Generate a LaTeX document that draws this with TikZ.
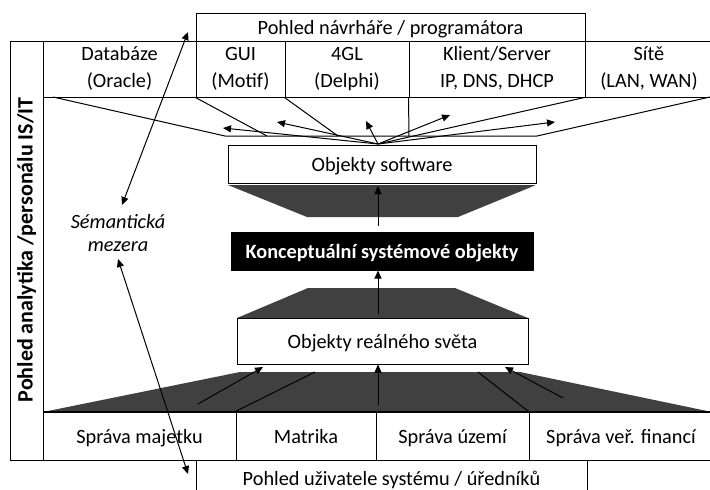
\documentclass[tikz,border=0pt]{standalone}
\usepackage{fontspec}
\setmainfont{Carlito}
\usetikzlibrary{arrows.meta}
\definecolor{darkfill}{RGB}{64,64,64}
\newcommand{\myst}{\strut}
\newcommand{\onest}{\rule[-6pt]{0pt}{26pt}}
\begin{document}
\begin{tikzpicture}[x=1pt,y=-1pt,
  box/.style={draw, line width=1pt, inner sep=0pt, align=center, fill=white,
    font=\fontsize{20.3}{27}\selectfont},
  plain/.style={line width=1pt},
  thickline/.style={line width=1.8pt},
  arr/.style={-{Triangle[length=8pt,width=7pt]}, line width=1pt},
  darr/.style={{Triangle[length=8pt,width=7pt]}-{Triangle[length=8pt,width=7pt]}, line width=1pt},
  dark/.style={fill=darkfill}]
\clip (0,0) rectangle (710,490);
\fill[white] (0,0) rectangle (710,490);

% dark trapezoids
\fill[dark] (43,412) -- (240,372) -- (520,372) -- (712,412) -- cycle;
\fill[dark] (228,185) -- (536,185) -- (458,217) -- (307,217) -- cycle;
\fill[dark] (308,288) -- (455,288) -- (528,318) -- (237,318) -- cycle;

% left strip
\node[box, minimum width=33pt, minimum height=419pt] (strip) at (26.5,250.5) {};
\node[rotate=90, font=\fontsize{22}{26}\selectfont\bfseries] (striptext) at (26.5,250) {Pohled analytika /personálu IS/IT};

% top title
\node[box, minimum width=389pt, minimum height=28pt] (ttop) at (390.5,27) {Pohled návrháře / programátora\onest};
% top row
\node[box, minimum width=153pt, minimum height=56pt] (db) at (119.5,69) {Databáze\myst\\(Oracle)\myst};
\node[box, minimum width=89pt, minimum height=56pt] (gui) at (240.5,69) {GUI\myst\\(Motif)\myst};
\node[box, minimum width=124pt, minimum height=56pt] (gl) at (347,69) {4GL\myst\\(Delphi)\myst};
\node[box, minimum width=176pt, minimum height=56pt] (ks) at (497,69) {Klient/Server\myst\\IP, DNS, DHCP\myst};
\node[box, minimum width=128pt, minimum height=56pt] (net) at (649,69) {Sítě\myst\\(LAN, WAN)\myst};
\draw[thickline] (db.south west) -- (net.south east);

% bottom row
\node[box, minimum width=193pt, minimum height=48pt] (sm) at (139.5,436) {Správa majetku\onest};
\node[box, minimum width=140pt, minimum height=48pt] (mat) at (306,436) {Matrika\onest};
\node[box, minimum width=153pt, minimum height=48pt] (su) at (452.5,436) {Správa území\onest};
\node[box, minimum width=184pt, minimum height=48pt] (svf) at (621,436) {Správa veř. financí\onest};
\draw[thickline] (sm.north west) -- (svf.north east);
% bottom title
\node[box, minimum width=391pt, minimum height=36pt] (tbot) at (391.5,478) {Pohled uživatele systému / úředníků\onest};

% central boxes
\node[box, minimum width=308pt, minimum height=38pt] (sw) at (382,164) {Objekty software\onest};
\node[box, fill=black, text=white, font=\fontsize{20.3}{27}\selectfont\bfseries,
  minimum width=302pt, minimum height=38pt] (ko) at (382,251) {Konceptuální systémové objekty\onest};
\node[box, minimum width=291pt, minimum height=46pt] (rw) at (382.5,341) {Objekty reálného světa\onest};

% fan above software box
\coordinate (f) at (378,144);
\draw[plain] (53,97) -- (225,136) -- (537,136) -- (710,97);
\draw[plain] (gui.south west) -- (267,136);
\draw[plain] (gl.south west) -- (338,136);
\draw[plain] (ks.south west) -- (409,136);
\draw[plain] (net.south west) -- (f);
\draw[arr] (f) -- (223,128);
\draw[arr] (f) -- (277,122);
\draw[arr] (f) -- (366,121);
\draw[arr] (f) -- (450,115);
\draw[arr] (f) -- (555,122);

% vertical arrows
\draw[arr] (378,226) -- (378,186);
\draw[arr] (378,314) -- (ko.south -| 378,0);

% lines in the bottom trapezoid
\draw[arr] (198,404) -- (263,367);
\draw[plain] (mat.north west) -- (315,372);
\draw[arr] (378,405) -- (rw.south -| 378,0);
\draw[plain] (svf.north west) -- (478,372);
\draw[arr] (563,398) -- (505,367);

% semantic gap
\node[font=\fontsize{20.3}{23}\selectfont\itshape, align=center] (sem) at (118,233) {Sémantická\\mezera};
\coordinate (s1) at (122,205);
\coordinate (s2) at (118,259);
\coordinate (semtop) at (188,32);
\coordinate (sembot) at (188,474);
\draw[darr] (s1) -- (semtop);
\draw[darr] (s2) -- (sembot);
\end{tikzpicture}
\end{document}
